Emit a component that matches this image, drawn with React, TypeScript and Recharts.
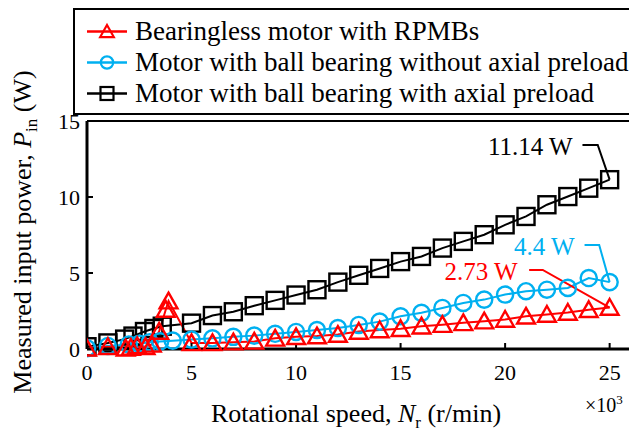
import React from 'react';
import { LineChart, Line, XAxis, YAxis, Legend, ReferenceLine, ReferenceDot, Label } from 'recharts';

const FONT = "'Liberation Serif', 'Times New Roman', serif";

// rotational speed (x10^3 r/min) and measured input power (W)
const rpmbSpeed = [0, 1, 1.85, 2.1, 2.4, 2.8, 3.1, 3.45, 3.77, 3.9, 5, 6, 7, 8, 9, 10, 11, 12, 13, 14, 15, 16, 17, 18, 19, 20, 21, 22, 23, 24, 25];
const rpmbPower = [0.05, 0.15, 0.05, 0.1, 0.2, 0.15, 0.3, 1.15, 2.6, 3.15, 0.4, 0.4, 0.45, 0.5, 0.7, 0.8, 0.85, 0.95, 1.15, 1.25, 1.33, 1.5, 1.6, 1.72, 1.83, 1.94, 2.15, 2.27, 2.4, 2.58, 2.73];

const freeSpeed = [0, 1, 2, 2.5, 3, 3.5, 4.1, 5, 6, 7, 8, 9, 10, 11, 12, 13, 14, 15, 16, 17, 18, 19, 20, 21, 22, 23, 24, 25];
const freePower = [0.05, 0.2, 0.3, 0.35, 0.45, 0.5, 0.55, 0.62, 0.7, 0.8, 0.88, 1.0, 1.12, 1.25, 1.38, 1.58, 1.8, 2.15, 2.38, 2.7, 3.03, 3.25, 3.58, 3.8, 3.9, 4.02, 4.67, 4.4];

const preloadSpeed = [0, 1, 1.8, 2.2, 2.75, 3.2, 3.6, 5, 6, 7, 8, 9, 10, 11, 12, 13, 14, 15, 16, 17, 18, 19, 20, 21, 22, 23, 24, 25];
const preloadPower = [0.15, 0.4, 0.65, 0.85, 1.15, 1.35, 1.5, 1.7, 2.2, 2.45, 2.85, 3.2, 3.55, 3.9, 4.4, 4.85, 5.3, 5.75, 6.09, 6.64, 7.08, 7.52, 8.17, 8.72, 9.49, 10.03, 10.58, 11.14];

const xTicks = [0, 5, 10, 15, 20, 25];
const yTicks = [0, 5, 10, 15];

const legendNames = [
  'Bearingless motor with RPMBs',
  'Motor with ball bearing without axial preload',
  'Motor with ball bearing with axial preload',
];
const seriesColors = ['#ff0000', '#00b0f0', '#000000'];
const seriesShapes = ['triangle', 'circle', 'square'];

// callouts at 25 x10^3 r/min: label, text end point, elbow, tip
const noteText = ['11.14 W', '4.4 W', '2.73 W'];
const noteColors = ['#000000', '#00b0f0', '#ff0000'];
const noteAt = [[23.23, 13.3], [23.33, 6.73], [20.6, 5.09]];
const noteLeaders = [
  [[23.7, 13.42], [24.43, 13.42], [25, 11.14]],
  [[23.8, 6.84], [24.5, 6.84], [25, 4.4]],
  [[21.15, 5.2], [21.8, 5.2], [25, 2.73]],
];

const toPoints = (xs, ys) => xs.map((x, i) => ({ x, y: ys[i] }));

function Marker({ kind, cx, cy, s, color, sw }) {
  if (cx == null || cy == null) return null;
  if (kind === 'triangle') {
    return (
      <path
        d={`M${cx},${cy - s}L${cx + s * 1.05},${cy + s * 0.85}L${cx - s * 1.05},${cy + s * 0.85}Z`}
        fill="none" stroke={color} strokeWidth={sw} strokeLinejoin="miter"
      />
    );
  }
  if (kind === 'circle') {
    return <circle cx={cx} cy={cy} r={s * 0.95} fill="none" stroke={color} strokeWidth={sw} />;
  }
  return <rect x={cx - s} y={cy - s} width={s * 2} height={s * 2} fill="none" stroke={color} strokeWidth={sw} />;
}

const renderDot = (kind, color) => (p) => (
  <Marker key={`${kind}-${p.index}`} kind={kind} cx={p.cx} cy={p.cy} s={8.5} color={color} sw={2.4} />
);

function LegendBox() {
  return (
    <div
      style={{
        width: 620, height: 107, border: '2px solid #000', boxSizing: 'border-box',
        background: '#fff', paddingTop: 6, fontFamily: FONT, fontSize: 27, color: '#000',
      }}
    >
      {legendNames.map((name, i) => (
        <div key={name} style={{ display: 'flex', alignItems: 'center', height: 31, whiteSpace: 'nowrap' }}>
          <svg width={60} height={31} style={{ flex: 'none' }}>
            <line x1={12} x2={52} y1={15.5} y2={15.5} stroke={seriesColors[i]} strokeWidth={2.5} />
            <Marker kind={seriesShapes[i]} cx={32} cy={15.5} s={6.5} color={seriesColors[i]} sw={2.2} />
          </svg>
          <span style={{ lineHeight: '31px', fontFamily: FONT }}>{name}</span>
        </div>
      ))}
    </div>
  );
}

function XTitle({ viewBox }) {
  const { x, y } = viewBox;
  return (
    <g fontFamily={FONT} fill="#000">
      <text x={x + 269} y={y + 73} textAnchor="middle" fontSize={26} fontFamily={FONT}>
        Rotational speed, <tspan fontStyle="italic">N</tspan>
        <tspan fontSize={17} dy={6}>r</tspan>
        <tspan dy={-6}> (r/min)</tspan>
      </text>
      <text x={x + 498} y={y + 63} fontSize={20} fontFamily={FONT}>
        ×10<tspan fontSize={13} dy={-8}>3</tspan>
      </text>
    </g>
  );
}

function YTitle() {
  const cx = 31;
  const cy = 232;
  return (
    <text
      x={cx} y={cy} transform={`rotate(-90, ${cx}, ${cy})`} textAnchor="middle"
      fontFamily={FONT} fontSize={26} fill="#000"
    >
      Measured input power, <tspan fontStyle="italic">P</tspan>
      <tspan fontSize={17} dy={6}>in</tspan>
      <tspan dy={-6}> (W)</tspan>
    </text>
  );
}

function NoteLabel({ viewBox, value, color }) {
  return (
    <text
      x={viewBox.x} y={viewBox.y} textAnchor="end" dominantBaseline="central"
      fontFamily={FONT} fontSize={25} fill={color}
    >
      {value}
    </text>
  );
}

export default function App() {
  const series = [
    { data: toPoints(preloadSpeed, preloadPower), idx: 2 },
    { data: toPoints(freeSpeed, freePower), idx: 1 },
    { data: toPoints(rpmbSpeed, rpmbPower), idx: 0 },
  ];
  return (
    <div
      style={{
        position: 'absolute', left: 0, top: 0, width: 629, height: 433, overflow: 'hidden',
        background: '#fff', fontFamily: FONT,
      }}
    >
      <LineChart width={660} height={433} margin={{ top: 121, right: 19, bottom: 54, left: 47 }} style={{ fontFamily: FONT }}>
        <XAxis
          type="number" dataKey="x" domain={[0, 26.5]} ticks={xTicks} height={30}
          axisLine={{ stroke: '#000', strokeWidth: 3 }} tickLine={{ stroke: '#000', strokeWidth: 2 }}
          tickSize={-6} tickMargin={21} allowDataOverflow
          tick={{ fill: '#000', fontSize: 22, fontFamily: FONT }}
        >
          <Label content={XTitle} />
        </XAxis>
        <YAxis
          type="number" domain={[0, 15]} ticks={yTicks} width={40}
          axisLine={{ stroke: '#000', strokeWidth: 3 }} tickLine={{ stroke: '#000', strokeWidth: 2 }}
          tickSize={-6} tickMargin={13}
          tick={{ fill: '#000', fontSize: 22, fontFamily: FONT }}
        >
          <Label content={YTitle} />
        </YAxis>
        <ReferenceLine y={15} stroke="#000" strokeWidth={2} />
        <Legend
          verticalAlign="middle" align="center" content={LegendBox}
          wrapperStyle={{ left: 73, top: 8, width: 620, height: 107 }}
        />
        {series.map((s) => (
          <Line
            key={legendNames[s.idx]} data={s.data} dataKey="y" name={legendNames[s.idx]} type="linear"
            stroke={seriesColors[s.idx]} strokeWidth={2}
            dot={renderDot(seriesShapes[s.idx], seriesColors[s.idx])}
            isAnimationActive={false}
          />
        ))}
        {noteLeaders.map((pts, i) => (
          <Line
            key={`leader-${i}`} data={toPoints(pts.map((p) => p[0]), pts.map((p) => p[1]))}
            dataKey="y" type="linear" stroke={noteColors[i]} strokeWidth={2} dot={false}
            legendType="none" isAnimationActive={false}
          />
        ))}
        {noteText.map((t, i) => (
          <ReferenceDot
            key={t} x={noteAt[i][0]} y={noteAt[i][1]} r={0} stroke="none" fill="none"
            label={<NoteLabel value={t} color={noteColors[i]} />}
          />
        ))}
      </LineChart>
    </div>
  );
}
